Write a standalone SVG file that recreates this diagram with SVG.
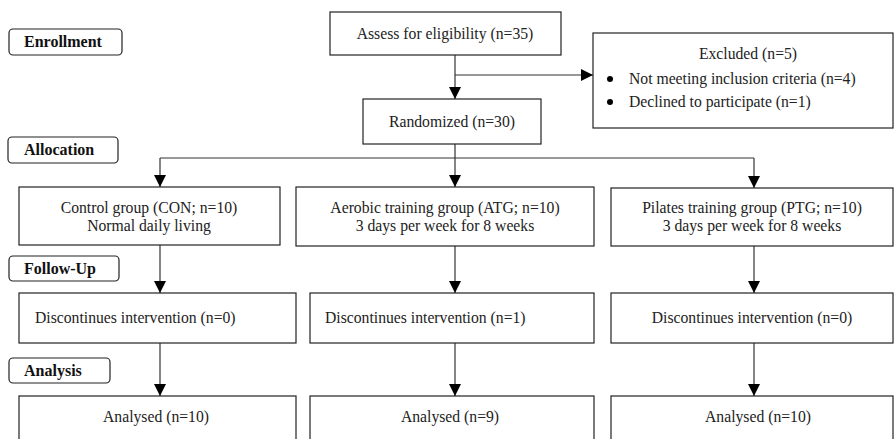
<svg xmlns="http://www.w3.org/2000/svg" width="896" height="439" viewBox="0 0 896 439">
<style>
.box{fill:#fff;stroke:#222;stroke-width:1.2}
.lab{fill:#fff;stroke:#222;stroke-width:1.2}
.t{font-family:"Liberation Serif",serif;font-size:15.7px;fill:#222}
.c{text-anchor:middle}
.b{font-family:"Liberation Serif",serif;font-size:16px;font-weight:bold;fill:#111}
.ln{fill:none;stroke:#333;stroke-width:1.2}
</style>
<defs>
<marker id="ah" viewBox="0 0 12 12" refX="12" refY="6" markerWidth="12" markerHeight="12" markerUnits="userSpaceOnUse" orient="auto">
<path d="M0,0 L12,6 L0,12 Z" fill="#000"/>
</marker>
</defs>
<rect width="896" height="439" fill="#fff"/>
<g id="connectors">
<path class="ln" d="M455,55 V99" marker-end="url(#ah)"/>
<path class="ln" d="M455,75 H593" marker-end="url(#ah)"/>
<path class="ln" d="M455,144 V158 M160,158 H754"/>
<path class="ln" d="M160,158 V187" marker-end="url(#ah)"/>
<path class="ln" d="M455,158 V187" marker-end="url(#ah)"/>
<path class="ln" d="M754,158 V188" marker-end="url(#ah)"/>
<path class="ln" d="M160,245 V293" marker-end="url(#ah)"/>
<path class="ln" d="M455,246 V293" marker-end="url(#ah)"/>
<path class="ln" d="M754,246 V293" marker-end="url(#ah)"/>
<path class="ln" d="M160,343 V396" marker-end="url(#ah)"/>
<path class="ln" d="M455,343 V396" marker-end="url(#ah)"/>
<path class="ln" d="M754,343 V396" marker-end="url(#ah)"/>
</g>
<g id="lab-enrollment"><rect class="lab" x="9" y="29" width="113" height="26" rx="4"/><text class="b" x="24" y="47">Enrollment</text></g>
<g id="lab-allocation"><rect class="lab" x="8" y="137" width="110" height="26" rx="4"/><text class="b" x="24" y="155">Allocation</text></g>
<g id="lab-followup"><rect class="lab" x="9" y="256" width="110" height="25" rx="4"/><text class="b" x="24" y="274">Follow-Up</text></g>
<g id="lab-analysis"><rect class="lab" x="9" y="358" width="101" height="25" rx="4"/><text class="b" x="24" y="376">Analysis</text></g>
<g id="assess"><rect class="box" x="330" y="12" width="231" height="43"/><text class="t c" x="445" y="39">Assess for eligibility (n=35)</text></g>
<g id="excluded"><rect class="box" x="593" y="33" width="300" height="95"/>
<text class="t c" x="748" y="59">Excluded (n=5)</text>
<circle cx="610" cy="79" r="3" fill="#000"/><text class="t" x="629" y="84">Not meeting inclusion criteria (n=4)</text>
<circle cx="610" cy="102" r="3" fill="#000"/><text class="t" x="629" y="107">Declined to participate (n=1)</text></g>
<g id="randomized"><rect class="box" x="363" y="99" width="178" height="45"/><text class="t c" x="452" y="127">Randomized (n=30)</text></g>
<g id="control"><rect class="box" x="19" y="187" width="261" height="58"/><text class="t c" x="149" y="213">Control group (CON; n=10)</text><text class="t c" x="149" y="231">Normal daily living</text></g>
<g id="aerobic"><rect class="box" x="296" y="187" width="298" height="59"/><text class="t c" x="445" y="213">Aerobic training group (ATG; n=10)</text><text class="t c" x="445" y="231">3 days per week for 8 weeks</text></g>
<g id="pilates"><rect class="box" x="611" y="188" width="282" height="58"/><text class="t c" x="752" y="213">Pilates training group (PTG; n=10)</text><text class="t c" x="752" y="231">3 days per week for 8 weeks</text></g>
<g id="disc1"><rect class="box" x="19" y="293" width="277" height="50"/><text class="t" x="35" y="323">Discontinues intervention (n=0)</text></g>
<g id="disc2"><rect class="box" x="310" y="293" width="284" height="50"/><text class="t" x="325" y="323">Discontinues intervention (n=1)</text></g>
<g id="disc3"><rect class="box" x="611" y="293" width="282" height="50"/><text class="t c" x="752" y="323">Discontinues intervention (n=0)</text></g>
<g id="an1"><rect class="box" x="19" y="396" width="277" height="50"/><text class="t c" x="156" y="422">Analysed (n=10)</text></g>
<g id="an2"><rect class="box" x="310" y="396" width="284" height="50"/><text class="t c" x="450" y="422">Analysed (n=9)</text></g>
<g id="an3"><rect class="box" x="611" y="396" width="282" height="50"/><text class="t c" x="758" y="422">Analysed (n=10)</text></g>
</svg>
